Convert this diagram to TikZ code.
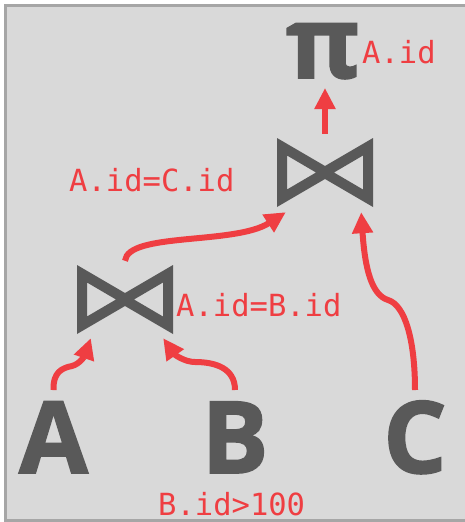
\documentclass[tikz,border=0pt]{standalone}
\usepackage{fontspec}
\usetikzlibrary{arrows.meta}
\newfontfamily\heavyfont{Open Sans}[BoldFeatures={FakeBold=1.6}]
\newfontfamily\monofont{DejaVu Sans Mono}
\definecolor{bg}{HTML}{D9D9D9}
\definecolor{frame}{HTML}{A6A6A6}
\definecolor{ink}{HTML}{595959}
\definecolor{redc}{HTML}{EF3E42}
\tikzset{
  big/.style={inner sep=0pt, anchor=base, text=ink, font=\heavyfont\bfseries\fontsize{100}{100}\selectfont},
  lbl/.style={inner sep=0pt, anchor=base west, text=redc, font=\monofont\fontsize{30.5}{30.5}\selectfont},
  joinbox/.style={inner sep=0pt, minimum width=96pt, minimum height=69pt},
  arr/.style={draw=redc, line width=6pt, -{Triangle[length=21pt,width=20pt]}},
}
\begin{document}
\begin{tikzpicture}[x=1pt,y=-1pt]
\useasboundingbox (0,0) rectangle (464,522);
\draw[frame, fill=bg, line width=3pt] (5,5) rectangle (472,520);

% big letters
\node[big] (A) at (53.5,473) {A};
\node[big] (B) at (235,473) {B};
\node[big] (C) at (415,473) {C};
\node[big] (pi) at (323,78) {π};

% joins
\node[joinbox] (j1) at (325,172.5) {};
\node[joinbox] (j2) at (125,299.5) {};
\foreach \j in {j1,j2}{
  \fill[ink, even odd rule, shift={(\j.center)}]
    (-48,-34.5) -- (0,-6.5) -- (48,-34.5) -- (48,34.5) -- (0,6.5) -- (-48,34.5) -- cycle
    (-38,-17) -- (-38,17) -- (-9,0) -- cycle
    (38,-17) -- (38,17) -- (9,0) -- cycle;
}

% labels
\node[lbl] (lpi) at (362,63) {A.id};
\node[lbl] (l1) at (69,191) {A.id=C.id};
\node[lbl] (l2) at (176,316) {A.id=B.id};
\node[lbl] (l3) at (158,515) {B.id>100};

% connectors
\draw[arr] ([yshift=4pt]j1.north) -- ([shift={(2pt,-10pt)}]pi.base);
\draw[arr] ([yshift=4pt]j2.north) .. controls (128,232) and (235,245) .. ([shift={(9pt,-5pt)}]j1.south west);
\draw[arr] ([yshift=83pt]C.base) .. controls (415,340) and (405,305) .. (388,300)
  .. controls (372,295) and (365,270) .. ([shift={(-12pt,-5pt)}]j1.south east);
\draw[arr] ([yshift=83pt]A.base) .. controls (53,372) and (62,368) .. (72,366)
  .. controls (80,364) and (85,355) .. ([shift={(14pt,-4pt)}]j2.south west);
\draw[arr] ([yshift=83pt]B.base) .. controls (235,368) and (215,362) .. (195,362)
  .. controls (185,362) and (175,355) .. ([shift={(-10pt,-4pt)}]j2.south east);
\end{tikzpicture}
\end{document}
